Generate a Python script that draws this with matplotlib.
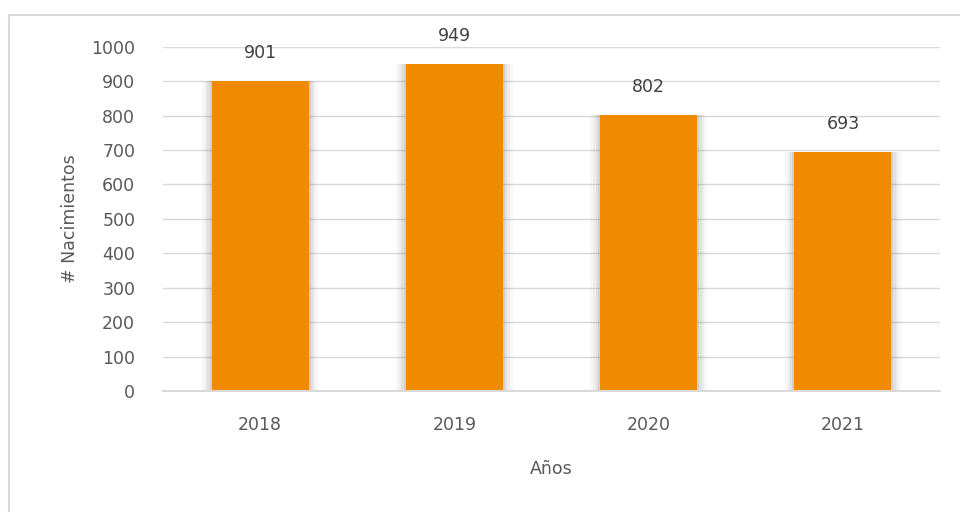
import matplotlib.pyplot as plt
from matplotlib.patches import Rectangle

years = ['2018', '2019', '2020', '2021']
births = [901, 949, 802, 693]
y_ticks = list(range(0, 1001, 100))

BAR_COLOR = '#F08A00'
TEXT_COLOR = '#595959'
GRID_COLOR = '#D9D9D9'

plt.rcParams['font.family'] = ['DejaVu Sans']

fig = plt.figure(figsize=(9.6, 5.12), dpi=100)
W, H = 960, 512

# рамка диаграммы (правый и нижний края уходят за кадр)
fig.patches.append(Rectangle((9 / W, -0.05), 1.1, 1 - 15 / H + 0.05,
                             transform=fig.transFigure, fill=False,
                             edgecolor=GRID_COLOR, linewidth=1.5))

ax = fig.add_axes([163 / W, 1 - 391 / H, (940 - 163) / W, (391 - 46.7) / H])
x = list(range(len(years)))

# мягкая тень вокруг столбцов
for k, a in zip([0.6, 0.57, 0.545, 0.52], [0.05, 0.07, 0.1, 0.14]):
    ax.bar(x, births, width=k, color='#707070', alpha=a, linewidth=0, zorder=2)
ax.bar(x, births, width=0.5, color=BAR_COLOR, linewidth=0, zorder=3)

for xi, v in zip(x, births):
    ax.annotate(str(v), (xi, v), xytext=(0, 28), textcoords='offset pixels',
                ha='center', va='center', fontsize=12.5, color='#404040')

ax.set_xlim(-0.5, 3.5)
ax.set_ylim(0, 1000)
ax.set_yticks(y_ticks)
ax.set_xticks(x)
ax.set_xticklabels(years)
ax.grid(axis='y', color=GRID_COLOR, linewidth=1.0, zorder=0)
ax.axhline(0, color=GRID_COLOR, linewidth=1.5, zorder=4, clip_on=False)
ax.set_axisbelow(True)
for s in ['top', 'right', 'left', 'bottom']:
    ax.spines[s].set_visible(False)
ax.tick_params(axis='both', length=0, labelsize=12.5, colors=TEXT_COLOR)
ax.tick_params(axis='y', pad=20)
ax.tick_params(axis='x', pad=18)

ax.set_ylabel('# Nacimientos', fontsize=12.5, color=TEXT_COLOR, labelpad=9)
ax.set_xlabel('Años', fontsize=12.5, color=TEXT_COLOR, labelpad=19)

fig.savefig('out.png', dpi=100, facecolor='white')
